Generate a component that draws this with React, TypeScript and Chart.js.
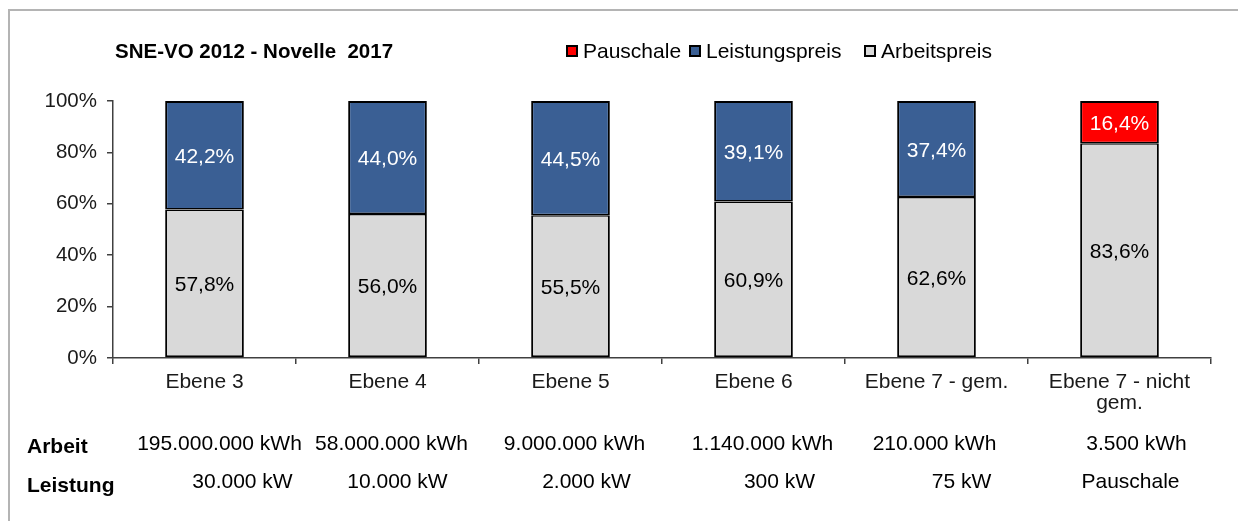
import React, { useEffect, useRef } from "react";
import { Chart, registerables } from "chart.js";

Chart.register(...registerables);

const FONT = "'Liberation Sans', Arial, sans-serif";

const categories: (string | string[])[] = [
  "Ebene 3",
  "Ebene 4",
  "Ebene 5",
  "Ebene 6",
  "Ebene 7 - gem.",
  ["Ebene 7 - nicht", "gem."],
];
const arbeitspreis = [57.8, 56.0, 55.5, 60.9, 62.6, 83.6];
const leistungspreis: (number | null)[] = [42.2, 44.0, 44.5, 39.1, 37.4, null];
const pauschale: (number | null)[] = [null, null, null, null, null, 16.4];
const yTicks = [0, 20, 40, 60, 80, 100];

const arbeitRow = [
  "195.000.000 kWh",
  "58.000.000 kWh",
  "9.000.000 kWh",
  "1.140.000 kWh",
  "210.000 kWh",
  "3.500 kWh",
];
const leistungRow = ["30.000 kW", "10.000 kW", "2.000 kW", "300 kW", "75 kW", "Pauschale"];
const arbeitOffsets = [15, 4, 4, 9, -2, 17];
const leistungOffsets = [38, 10, 16, 26, 25, 11];

const title = "SNE-VO 2012 - Novelle  2017";

const COLORS = {
  arbeit: "#d9d9d9",
  leistung: "#3a5f94",
  pauschale: "#ff0000",
};

const fmt = (v: number) => v.toFixed(1).replace(".", ",") + "%";

const overlayPlugin = {
  id: "overlay",
  afterDatasetsDraw(chart: any) {
    const ctx = chart.ctx;
    ctx.save();
    ctx.font = `21px ${FONT}`;
    ctx.textAlign = "center";
    ctx.textBaseline = "middle";
    chart.data.datasets.forEach((ds: any, di: number) => {
      const meta = chart.getDatasetMeta(di);
      meta.data.forEach((el: any, i: number) => {
        const v = ds.data[i];
        if (v == null) return;
        ctx.fillStyle = ds.labelColor;
        ctx.fillText(fmt(v), el.x, (el.y + el.base) / 2 + 2);
      });
    });
    ctx.restore();
  },
  afterDraw(chart: any) {
    const ctx = chart.ctx;
    const xs = chart.scales.x;
    ctx.save();
    // title
    ctx.fillStyle = "#000";
    ctx.textBaseline = "middle";
    ctx.textAlign = "left";
    ctx.font = `bold 20.5px ${FONT}`;
    ctx.fillText(title, 115, 52);
    // legend (reverse order)
    const legendX = [566, 689, 864];
    const items = [...chart.data.datasets].reverse();
    ctx.font = `21px ${FONT}`;
    items.forEach((ds: any, k: number) => {
      const x = legendX[k];
      ctx.fillStyle = "#000";
      ctx.fillRect(x, 45, 12, 12);
      ctx.fillStyle = ds.backgroundColor;
      ctx.fillRect(x + 2, 47, 8, 8);
      ctx.fillStyle = "#000";
      ctx.fillText(ds.label, x + 17, 52);
    });
    // data table rows
    ctx.font = `bold 21px ${FONT}`;
    ctx.fillText("Arbeit", 27, 447);
    ctx.fillText("Leistung", 27, 486);
    ctx.font = `21px ${FONT}`;
    ctx.textAlign = "center";
    arbeitRow.forEach((t, i) => {
      ctx.fillText(t, xs.getPixelForValue(i) + arbeitOffsets[i], 444);
    });
    leistungRow.forEach((t, i) => {
      ctx.fillText(t, xs.getPixelForValue(i) + leistungOffsets[i], 482);
    });
    ctx.restore();
  },
};

export default function App() {
  const ref = useRef<HTMLCanvasElement>(null);
  useEffect(() => {
    if (!ref.current) return;
    const axisColor = "#404040";
    const chart = new Chart(ref.current, {
      type: "bar",
      data: {
        labels: categories as any,
        datasets: [
          {
            label: "Arbeitspreis",
            data: arbeitspreis,
            backgroundColor: COLORS.arbeit,
            borderWidth: { top: 1.5, left: 2, right: 2, bottom: 2 },
            labelColor: "#000",
          } as any,
          {
            label: "Leistungspreis",
            data: leistungspreis,
            backgroundColor: COLORS.leistung,
            borderWidth: { top: 2, left: 2, right: 2, bottom: 1.5 },
            labelColor: "#fff",
          } as any,
          {
            label: "Pauschale",
            data: pauschale,
            backgroundColor: COLORS.pauschale,
            borderWidth: { top: 2, left: 2, right: 2, bottom: 1.5 },
            labelColor: "#fff",
          } as any,
        ],
      },
      options: {
        animation: false,
        responsive: false,
        maintainAspectRatio: false,
        events: [],
        layout: { padding: { top: 101, right: 27, left: 0, bottom: 0 } },
        datasets: {
          bar: {
            barPercentage: 0.43,
            categoryPercentage: 1,
            borderColor: "#000",
            borderSkipped: false,
            inflateAmount: 0,
          },
        },
        plugins: {
          legend: { display: false },
          title: { display: false },
          tooltip: { enabled: false },
        },
        scales: {
          x: {
            stacked: true,
            offset: true,
            grid: {
              offset: true,
              drawOnChartArea: false,
              drawTicks: true,
              tickLength: 6,
              color: axisColor,
              lineWidth: 1.5,
            },
            border: { color: axisColor, width: 1.5 },
            ticks: {
              font: { size: 21, family: FONT, lineHeight: 1.0 },
              color: "#1a1a1a",
              padding: 8,
              maxRotation: 0,
              autoSkip: false,
            },
            afterFit: (s: any) => {
              s.height = 163;
            },
          },
          y: {
            stacked: true,
            min: 0,
            max: 100,
            afterBuildTicks: (s: any) => {
              s.ticks = yTicks.map((v) => ({ value: v }));
            },
            ticks: {
              callback: (v: any) => v + "%",
              font: { size: 20.5, family: FONT },
              color: "#1a1a1a",
              padding: 10,
            },
            grid: {
              drawOnChartArea: false,
              drawTicks: true,
              tickLength: 6,
              color: axisColor,
              lineWidth: 1.5,
            },
            border: { color: axisColor, width: 1.5 },
            afterFit: (s: any) => {
              s.width = 113;
            },
          },
        },
      } as any,
      plugins: [overlayPlugin],
    });
    return () => chart.destroy();
  }, []);

  return (
    <div style={{ position: "absolute", left: 0, top: 0, width: 1238, height: 521, overflow: "hidden", background: "#fff" }}>
      <div
        style={{
          position: "absolute",
          left: 8,
          top: 9,
          width: 1240,
          height: 530,
          borderTop: "2px solid #b4b4b4",
          borderLeft: "2px solid #b4b4b4",
          boxSizing: "border-box",
        }}
      />
      <canvas ref={ref} width={1238} height={521} style={{ position: "absolute", left: 0, top: 0, display: "block" }} />
    </div>
  );
}
